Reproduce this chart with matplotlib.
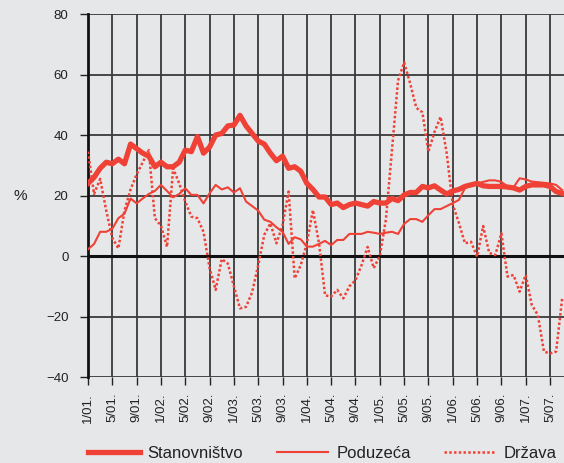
import numpy as np
import matplotlib
matplotlib.use("Agg")
import matplotlib.pyplot as plt

plt.rcParams['font.family'] = ['Liberation Sans', 'DejaVu Sans']

# monthly data, Jan 2001 .. Jul 2007 (%)
stanovnistvo = [24, 26, 29, 31, 30.5, 32, 30.5, 37, 35.5, 34,
                33, 29.5, 31, 29.5, 29.5, 31, 35, 34.5, 39.5, 34,
                36, 40, 40.5, 43, 43.3, 46.5, 43, 40.5, 38, 37,
                34, 31.5, 33, 29, 29.5, 28, 24, 22, 19.5, 19.5,
                17, 17.5, 16, 17, 17.5, 17, 16.5, 18, 17.5, 17.5,
                19, 18.3, 20.2, 21, 21, 23, 22.5, 23.2, 21.8, 20.5,
                21.5, 22, 23, 23.5, 24, 23.2, 23, 23, 23, 22.8,
                22.5, 21.8, 23, 23.5, 23.5, 23.5, 23, 21.3, 20.7]
poduzeca = [2.2, 4, 8, 8, 9, 12.5, 14, 19, 17.4, 19,
            20.5, 21.5, 23.5, 21.5, 19.4, 20.5, 22.4, 20.2, 20.2, 17.4,
            20.7, 23.5, 22, 22.7, 21, 22.4, 18, 16.5, 15, 12,
            11.3, 9.5, 8, 4, 6.2, 5.5, 3.1, 3.1, 4, 5,
            3.6, 5.3, 5.3, 7.3, 7.3, 7.3, 8, 7.7, 7.3, 7.7,
            8, 7.3, 10.6, 12.2, 12.2, 11.3, 13.5, 15.5, 15.5, 16.5,
            17.5, 18.5, 22.4, 23.5, 24, 24.5, 25, 25, 24.5, 23,
            22.7, 25.7, 25.3, 24.6, 24.4, 24.2, 24, 23.5, 21.8]
drzava = [34.5, 20.5, 25.5, 15, 6, 2.5, 15, 22, 27, 31,
          35, 12.5, 10, 3, 29, 24, 18, 13, 12.5, 8,
          -4, -11.2, -1, -2.5, -10, -17.3, -16.8, -12, -3, 7,
          10.8, 4.2, 10.2, 21.3, -7.4, -3, 4.2, 15.2, 4.2, -13,
          -13.4, -11.2, -14, -10, -8, -3, 3, -4, 0, 12,
          35, 58, 64, 57, 49, 47.5, 34.5, 41, 46, 34,
          17, 11, 4.2, 4.7, -0.2, 9.9, 1, 0.3, 7.5, -6.8,
          -6.3, -11.8, -6.3, -16.2, -19.5, -31.6, -32.2, -31.6, -14]

tick_labels = ['1/01.', '5/01.', '9/01.', '1/02.', '5/02.', '9/02.', '1/03.',
               '5/03.', '9/03.', '1/04.', '5/04.', '9/04.', '1/05.', '5/05.',
               '9/05.', '1/06.', '5/06.', '9/06.', '1/07.', '5/07.']

bg = '#e6e7e9'
red = '#ef4136'

fig = plt.figure(figsize=(5.64, 4.63), dpi=100, facecolor=bg)
ax = fig.add_axes([88/564, 1-377/463, 1-88/564, (377-14)/463])
ax.set_facecolor(bg)

x = np.arange(len(stanovnistvo))
ax.plot(x, drzava, color=red, lw=1.8, linestyle=(0, (1, 0.9)), label='Država', zorder=3)
ax.plot(x, poduzeca, color=red, lw=1.5, label='Poduzeća', zorder=4)
ax.plot(x, stanovnistvo, color=red, lw=3.8, label='Stanovništvo', zorder=5)

ax.set_xlim(0, 78.3)
ax.set_ylim(-40, 80)
ax.set_yticks(range(-40, 81, 20))
ax.set_xticks(range(0, 4*len(tick_labels), 4))
ax.set_xticklabels(tick_labels, rotation=90)

ax.grid(True, color='#3a3a3a', lw=1.3, zorder=1)
ax.set_axisbelow(True)
ax.axhline(0, color='#111111', lw=2.2, zorder=2)

for s in ['top', 'right', 'bottom']:
    ax.spines[s].set_visible(False)
ax.spines['left'].set_color('#111111')
ax.spines['left'].set_linewidth(2)

ax.tick_params(axis='y', length=6, width=1, color='#222222', pad=8,
               labelsize=9.5, labelcolor='#222222')
ax.tick_params(axis='x', length=5.5, width=1, color='#222222', pad=6,
               labelsize=9.5, labelcolor='#222222')

fig.text(14/564, 1-196/463, '%', fontsize=11, color='#222222', ha='left', va='center')

h, l = ax.get_legend_handles_labels()
order = [2, 1, 0]
leg = fig.legend([h[i] for i in order], [l[i] for i in order], loc='center left',
                 bbox_to_anchor=(88/564, 1-453/463), ncol=3, frameon=False,
                 fontsize=12, handlelength=3.1, handletextpad=0.48,
                 columnspacing=2.0, borderpad=0, borderaxespad=0,
                 labelcolor='#222222')

fig.savefig('out.png', dpi=100, facecolor=bg)
